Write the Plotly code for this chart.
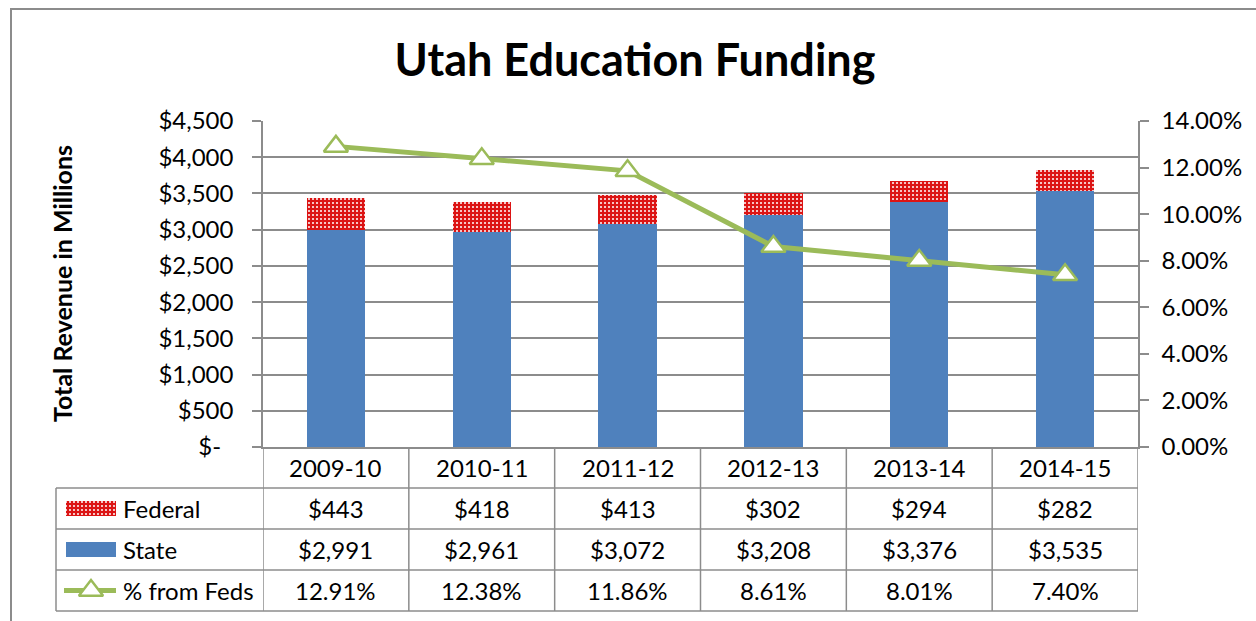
import plotly.graph_objects as go

W, H = 1256, 621
categories = ["2009-10", "2010-11", "2011-12", "2012-13", "2013-14", "2014-15"]
federal = [443, 418, 413, 302, 294, 282]
state = [2991, 2961, 3072, 3208, 3376, 3535]
pct_feds = [12.91, 12.38, 11.86, 8.61, 8.01, 7.40]
left_ticks = [0, 500, 1000, 1500, 2000, 2500, 3000, 3500, 4000, 4500]
right_ticks = [0, 2, 4, 6, 8, 10, 12, 14]

FONT = "Lato"
BLUE = "#4F81BD"
RED = "#DC1414"
GREEN = "#9BBB59"
GRID = "#8C8C8C"
TRI = 21

def px(x):
    return x / W

def py(y):
    return 1 - y / H

pattern = dict(shape=".", fillmode="replace", bgcolor=RED, fgcolor="white", size=4, solidity=0.2)

fig = go.Figure()

fig.add_trace(go.Bar(x=categories, y=state, xaxis="x", yaxis="y",
                     marker=dict(color=BLUE, line=dict(width=0)),
                     width=0.4, showlegend=False, name="State"))
fig.add_trace(go.Bar(x=categories, y=federal, xaxis="x", yaxis="y",
                     marker=dict(color=RED, line=dict(width=0), pattern=pattern),
                     width=0.4, showlegend=False, name="Federal"))
fig.add_trace(go.Scatter(x=categories, y=pct_feds, xaxis="x", yaxis="y2", mode="lines+markers",
                         line=dict(color=GREEN, width=5),
                         marker=dict(symbol="triangle-up", size=TRI, color="white",
                                     line=dict(color=GREEN, width=2.5)),
                         showlegend=False, name="% from Feds", cliponaxis=False))

# legend keys inside the data table
fig.add_trace(go.Bar(x=[1], y=[2.5], orientation="h", width=0.37, xaxis="x3", yaxis="y3",
                     marker=dict(color=RED, line=dict(width=0), pattern=pattern),
                     showlegend=False, hoverinfo="skip"))
fig.add_trace(go.Bar(x=[1], y=[1.5], orientation="h", width=0.37, xaxis="x3", yaxis="y3",
                     marker=dict(color=BLUE, line=dict(width=0)),
                     showlegend=False, hoverinfo="skip"))
fig.add_trace(go.Scatter(x=[-0.04, 1.04], y=[0.5, 0.5], xaxis="x3", yaxis="y3",
                         mode="lines", line=dict(color=GREEN, width=5),
                         showlegend=False, hoverinfo="skip"))
fig.add_trace(go.Scatter(x=[0.5], y=[0.5], xaxis="x3", yaxis="y3",
                         mode="markers",
                         marker=dict(symbol="triangle-up", size=TRI, color="white",
                                     line=dict(color=GREEN, width=2.5)),
                         showlegend=False, hoverinfo="skip", cliponaxis=False))

x_dom = [px(263), px(1138)]
y_dom = [py(447), py(121)]

fig.update_layout(
    template="none",
    width=W, height=H,
    margin=dict(l=0, r=0, t=0, b=0, pad=0, autoexpand=False),
    paper_bgcolor="white", plot_bgcolor="white",
    barmode="stack",
    showlegend=False,
    font=dict(family=FONT, size=24, color="black"),
    title=dict(text="<b>Utah Education Funding</b>", x=px(635), y=py(60),
               xanchor="center", yanchor="middle", xref="paper", yref="paper",
               font=dict(family=FONT, size=45, color="black")),
    xaxis=dict(domain=x_dom, type="category", categoryorder="array", categoryarray=categories,
               range=[-0.5, 5.5], showticklabels=False, ticks="",
               anchor="y", automargin=False,
               showline=True, linecolor=GRID, linewidth=1.5, showgrid=False, zeroline=False,
               fixedrange=True),
    yaxis=dict(domain=y_dom, range=[0, 4500], tickvals=left_ticks, anchor="x", automargin=False,
               ticktext=[("$-\u00a0\u00a0" if v == 0 else f"${v:,}") for v in left_ticks],
               ticks="outside", ticklen=9, tickcolor=GRID, tickwidth=1.5,
               ticklabelstandoff=14,
               showline=True, linecolor=GRID, linewidth=1.5,
               showgrid=True, gridcolor=GRID, gridwidth=1.5, zeroline=False,
               tickfont=dict(size=24)),
    yaxis2=dict(overlaying="y", side="right", anchor="x", range=[0, 14], automargin=False,
                tickvals=right_ticks, ticktext=[f"{v:.2f}%" for v in right_ticks],
                ticks="outside", ticklen=9, tickcolor=GRID, tickwidth=1.5,
                ticklabelstandoff=8,
                showline=True, linecolor=GRID, linewidth=1.5, showgrid=False, zeroline=False,
                tickfont=dict(size=24)),
    xaxis3=dict(domain=[px(64), px(116)], range=[-0.04, 1.0], visible=False, fixedrange=True,
                anchor="y3", automargin=False),
    yaxis3=dict(domain=[py(611), py(488)], range=[0, 3], visible=False, anchor="x3",
                fixedrange=True, automargin=False),
)

shapes = []
LW = 1.5
# outer chart border
shapes.append(dict(type="rect", xref="paper", yref="paper", x0=px(11), y0=py(9),
                   x1=1.02, y1=-0.02, line=dict(color=GRID, width=2), fillcolor="rgba(0,0,0,0)"))
# table vertical lines at category boundaries
for i in range(len(categories) + 1):
    shapes.append(dict(type="line", xref="x", yref="paper", x0=i - 0.5, x1=i - 0.5,
                       y0=py(447), y1=py(611), line=dict(color=GRID, width=LW)))
# legend column left line
shapes.append(dict(type="line", xref="paper", yref="paper", x0=px(56), x1=px(56),
                   y0=py(488), y1=py(611), line=dict(color=GRID, width=LW)))
# table horizontal lines
for yy in [488, 529, 570, 611]:
    shapes.append(dict(type="line", xref="paper", yref="paper", x0=px(56), x1=px(1138),
                       y0=py(yy), y1=py(yy), line=dict(color=GRID, width=LW)))
fig.update_layout(shapes=shapes)

ann = []
ann.append(dict(text="<b>Total Revenue in Millions</b>", textangle=-90, xref="paper", yref="paper",
                x=px(62), y=py(284), showarrow=False, xanchor="center", yanchor="middle",
                font=dict(size=25, family=FONT)))
row_y = {"cat": 467, "fed": 508, "state": 549, "pct": 590}
for i, c in enumerate(categories):
    ann.append(dict(text=c, xref="x", yref="paper", x=i, y=py(row_y["cat"]), showarrow=False,
                    xanchor="center", yanchor="middle"))
    ann.append(dict(text=f"${federal[i]:,}", xref="x", yref="paper", x=i, y=py(row_y["fed"]),
                    showarrow=False, xanchor="center", yanchor="middle"))
    ann.append(dict(text=f"${state[i]:,}", xref="x", yref="paper", x=i, y=py(row_y["state"]),
                    showarrow=False, xanchor="center", yanchor="middle"))
    ann.append(dict(text=f"{pct_feds[i]:.2f}%", xref="x", yref="paper", x=i, y=py(row_y["pct"]),
                    showarrow=False, xanchor="center", yanchor="middle"))
for label, key in [("Federal", "fed"), ("State", "state"), ("% from Feds", "pct")]:
    ann.append(dict(text=label, xref="paper", yref="paper", x=px(121), y=py(row_y[key]),
                    showarrow=False, xanchor="left", yanchor="middle"))
fig.update_layout(annotations=ann)

fig.write_html("out.html")
